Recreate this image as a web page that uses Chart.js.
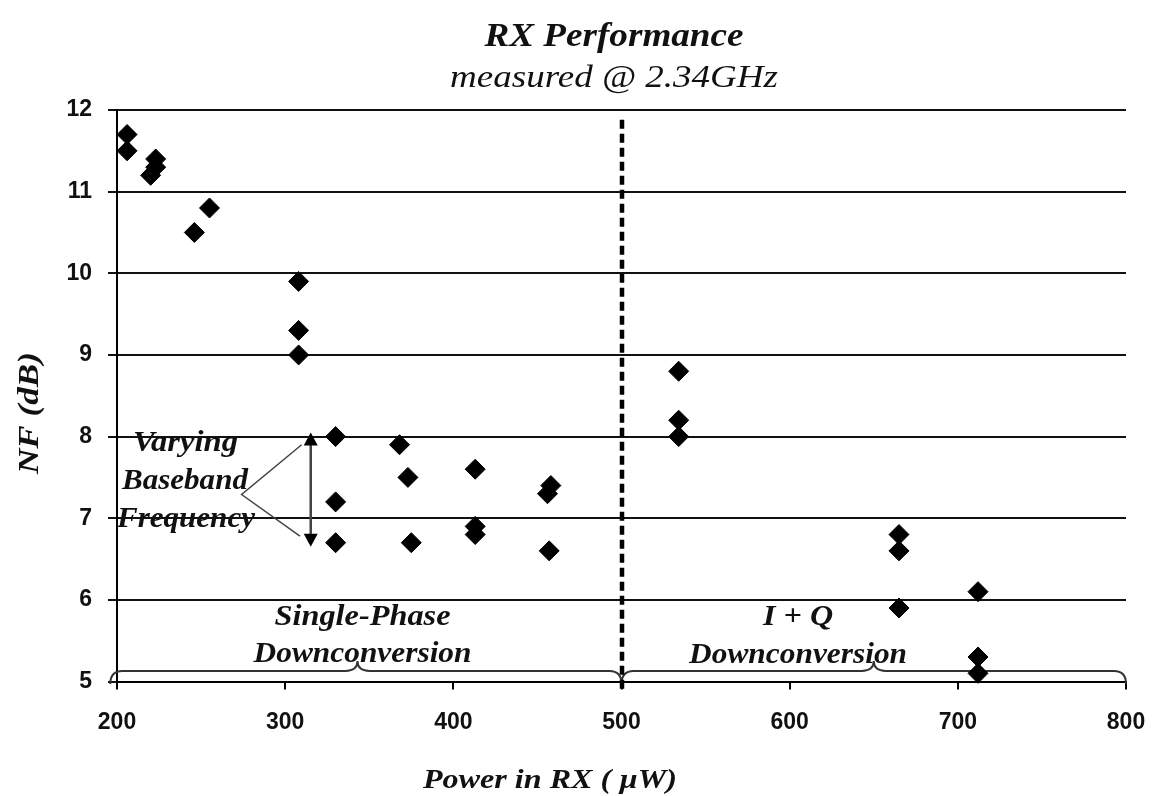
<!DOCTYPE html>
<html>
<head>
<meta charset="utf-8">
<title>RX Performance</title>
<script src="https://cdn.jsdelivr.net/npm/chart.js@4.4.1/dist/chart.umd.min.js"></script>
<style>
  html, body { margin: 0; padding: 0; background: #ffffff; }
  #wrap { width: 1160px; height: 796px; position: relative; background: #ffffff; }
  canvas { display: block; }
</style>
</head>
<body>
<div id="wrap"><canvas id="chart" width="1160" height="796"></canvas></div>
<script>
// Receiver power (µW) and noise figure (dB), grouped by downconversion mode
const singlePhasePower = [206, 206, 223, 223, 220, 246, 255, 308, 308, 308, 330, 330, 330, 368, 373, 375, 413, 413, 413, 458, 456, 457];
const singlePhaseNF    = [11.7, 11.5, 11.4, 11.3, 11.2, 10.5, 10.8, 9.9, 9.3, 9.0, 8.0, 7.2, 6.7, 7.9, 7.5, 6.7, 7.6, 6.9, 6.8, 7.4, 7.3, 6.6];
const iqPower = [534, 534, 534, 665, 665, 665, 712, 712, 712];
const iqNF    = [8.8, 8.2, 8.0, 6.8, 6.6, 5.9, 6.1, 5.3, 5.1];

// Axis ranges and tick labels
const xTicks = [200, 300, 400, 500, 600, 700, 800];
const yTicks = [5, 6, 7, 8, 9, 10, 11, 12];

// Boundary between the two downconversion modes
const modeBoundary = 500;

const toPoints = (xs, ys) => xs.map((x, i) => ({ x: x, y: ys[i] }));

const SERIF = '"Liberation Serif", "Times New Roman", serif';
const SANS = '"Liberation Sans", Arial, sans-serif';

// Draws text centred at (cx, by) and stretched horizontally to a given width
function fitText(ctx, text, cx, by, font, targetW, rotate) {
  ctx.save();
  ctx.font = font;
  const w = ctx.measureText(text).width;
  ctx.translate(cx, by);
  if (rotate) ctx.rotate(-Math.PI / 2);
  ctx.scale(targetW / w, 1);
  ctx.textAlign = 'center';
  ctx.textBaseline = 'alphabetic';
  ctx.fillStyle = '#111';
  ctx.fillText(text, 0, 0);
  ctx.restore();
}

// Curly brace opening downwards onto the axis, tip pointing up
function brace(ctx, x0, x1, xm, yEnd, yLine, yTip) {
  const r = 12;
  ctx.beginPath();
  ctx.moveTo(x0, yEnd);
  ctx.quadraticCurveTo(x0, yLine, x0 + r, yLine);
  ctx.lineTo(xm - r, yLine);
  ctx.quadraticCurveTo(xm, yLine, xm, yTip);
  ctx.quadraticCurveTo(xm, yLine, xm + r, yLine);
  ctx.lineTo(x1 - r, yLine);
  ctx.quadraticCurveTo(x1, yLine, x1, yEnd);
  ctx.stroke();
}

function arrowHead(ctx, x, yTip, dir) {
  ctx.beginPath();
  ctx.moveTo(x, yTip);
  ctx.lineTo(x - 7, yTip + dir * 13);
  ctx.lineTo(x + 7, yTip + dir * 13);
  ctx.closePath();
  ctx.fill();
}

const annotations = {
  id: 'annotations',
  beforeDatasetsDraw(chart) {
    const { ctx } = chart;
    const xs = chart.scales.x, ys = chart.scales.y;
    const px = v => xs.getPixelForValue(v);
    const py = v => ys.getPixelForValue(v);

    // Mode braces
    ctx.save();
    ctx.strokeStyle = '#333';
    ctx.lineWidth = 2;
    brace(ctx, px(196), px(modeBoundary), px(343), py(4.97), py(5.13), py(5.25));
    brace(ctx, px(modeBoundary), px(800), px(650), py(4.97), py(5.13), py(5.25));
    ctx.restore();

    // Mode labels
    const bi = 'italic bold 30px ' + SERIF;
    fitText(ctx, 'Single-Phase', px(346), py(5.69), bi, 176);
    fitText(ctx, 'Downconversion', px(346), py(5.24), bi, 218);
    fitText(ctx, 'I + Q', px(605), py(5.69), bi, 70);
    fitText(ctx, 'Downconversion', px(605), py(5.23), bi, 218);

    // Baseband-frequency note with arrows
    fitText(ctx, 'Varying', px(240.7), py(7.82), bi, 105);
    fitText(ctx, 'Baseband', px(240.4), py(7.36), bi, 126);
    fitText(ctx, 'Frequency', px(241), py(6.89), bi, 138);

    ctx.save();
    ctx.strokeStyle = '#444';
    ctx.fillStyle = '#000';
    ctx.lineWidth = 2.5;
    const ax = px(315.2);
    const yTop = py(8.05), yBot = py(6.65);
    ctx.beginPath();
    ctx.moveTo(ax, yTop + 10);
    ctx.lineTo(ax, yBot - 10);
    ctx.stroke();
    arrowHead(ctx, ax, yTop, 1);
    arrowHead(ctx, ax, yBot, -1);
    ctx.lineWidth = 1.5;
    ctx.beginPath();
    ctx.moveTo(px(309.8), py(7.9));
    ctx.lineTo(px(274.1), py(7.29));
    ctx.lineTo(px(308.8), py(6.78));
    ctx.stroke();
    ctx.restore();
  },
  afterDatasetsDraw(chart) {
    const { ctx } = chart;
    const xs = chart.scales.x, ys = chart.scales.y;
    const x = Math.round(xs.getPixelForValue(modeBoundary));
    ctx.save();
    ctx.strokeStyle = '#000';
    ctx.lineWidth = 4.5;
    ctx.setLineDash([9, 5]);
    ctx.beginPath();
    ctx.moveTo(x, ys.getPixelForValue(11.88));
    ctx.lineTo(x, ys.getPixelForValue(4.9));
    ctx.stroke();
    ctx.restore();
  },
  afterDraw(chart) {
    const { ctx } = chart;
    fitText(ctx, 'RX Performance', 614, 46, 'italic bold 34px ' + SERIF, 259);
    fitText(ctx, 'measured @ 2.34GHz', 614, 87, 'italic 32px ' + SERIF, 328);
    fitText(ctx, 'Power in RX ( \u00b5W)', 550, 788, 'italic bold 28px ' + SERIF, 254);
    fitText(ctx, 'NF (dB)', 38, 413, 'italic bold 30px ' + SERIF, 122, true);
  }
};

const markerStyle = {
  showLine: false,
  pointStyle: 'rectRot',
  pointRadius: 10,
  pointHoverRadius: 10,
  pointBackgroundColor: '#000',
  pointBorderColor: '#000',
  pointBorderWidth: 1,
  clip: false
};

new Chart(document.getElementById('chart'), {
  type: 'scatter',
  data: {
    datasets: [
      Object.assign({ label: 'Single-Phase Downconversion', data: toPoints(singlePhasePower, singlePhaseNF) }, markerStyle),
      Object.assign({ label: 'I + Q Downconversion', data: toPoints(iqPower, iqNF) }, markerStyle)
    ]
  },
  options: {
    responsive: false,
    animation: false,
    devicePixelRatio: 1,
    layout: { padding: { top: 110, right: 34, bottom: 0, left: 0 } },
    plugins: {
      legend: { display: false },
      title: { display: false },
      tooltip: { enabled: false }
    },
    scales: {
      x: {
        type: 'linear',
        min: xTicks[0],
        max: xTicks[xTicks.length - 1],
        afterBuildTicks: s => { s.ticks = xTicks.map(v => ({ value: v })); },
        afterFit: s => { s.height = 114.5; s.paddingLeft = 0; s.paddingRight = 0; },
        grid: { drawOnChartArea: false, drawTicks: true, tickLength: 8, color: '#000', lineWidth: 2 },
        border: { display: true, color: '#000', width: 2 },
        ticks: { color: '#111', padding: 19, maxRotation: 0, font: { family: SANS, size: 23, weight: 'bold' } }
      },
      y: {
        type: 'linear',
        min: yTicks[0],
        max: yTicks[yTicks.length - 1],
        afterBuildTicks: s => { s.ticks = yTicks.map(v => ({ value: v })); },
        afterFit: s => { s.width = 117; s.paddingTop = 0; s.paddingBottom = 0; },
        grid: { drawOnChartArea: true, drawTicks: true, tickLength: 9, color: '#111', lineWidth: 2 },
        border: { display: true, color: '#000', width: 2 },
        ticks: { color: '#111', padding: 16, font: { family: SANS, size: 23, weight: 'bold' } }
      }
    }
  },
  plugins: [annotations]
});
</script>
</body>
</html>
